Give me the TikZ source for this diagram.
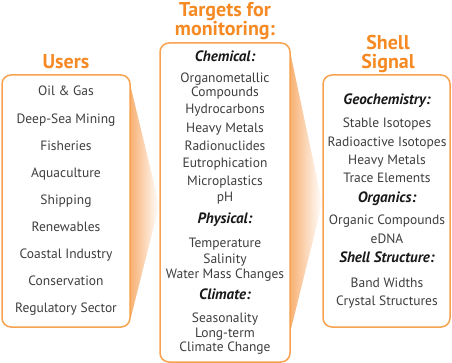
\documentclass[tikz,border=0pt]{standalone}
\usepackage{fontspec}
\setmainfont{PT Sans}
\usetikzlibrary{backgrounds}

\definecolor{shellorange}{RGB}{245,138,36}
\definecolor{boxline}{RGB}{247,162,78}
\definecolor{funnelorange}{RGB}{248,178,118}
\definecolor{itemgray}{RGB}{62,62,62}
\definecolor{headgray}{RGB}{25,25,25}

\tikzset{
    box/.style={draw=boxline, line width=1.5pt, rounded corners=9pt,
        fill=white, inner sep=0pt},
    title/.style={text=shellorange, anchor=base, inner sep=0pt, align=center,
        font=\fontsize{20}{19}\selectfont\bfseries},
    item/.style={text=itemgray, anchor=base, inner sep=0pt, align=center,
        font=\fontsize{13.5}{14}\selectfont},
    funnel/.style={left color=funnelorange, right color=white}
}
\newcommand{\head}[1]{{\color{headgray}\fontsize{15}{16}\selectfont\bfseries\itshape #1}}

\begin{document}
\begin{tikzpicture}[x=1pt,y=-1pt]
    \useasboundingbox (0,0) rectangle (452,363);

    % Kästen
    \node[box, minimum width=128pt, minimum height=252pt] (users)   at (66,201)    {};
    \node[box, minimum width=130pt, minimum height=319pt] (targets) at (225,202.5) {};
    \node[box, minimum width=127pt, minimum height=252pt] (shell)   at (386.5,201) {};

    % Trichter
    \begin{scope}[on background layer]
        \shade[funnel] (users.east |- 0,87) -- (targets.west |- 0,205)
            -- (users.east |- 0,318) -- cycle;
        \shade[funnel] (targets.east |- 0,55) -- (shell.west |- 0,203)
            -- (targets.east |- 0,330) -- cycle;
    \end{scope}

    % Titel (Grundlinie der letzten Zeile)
    \node[title] (tUsers)   at (66,69)  {Users};
    \node[title] (tTargets) at (225,35.5) {Targets for\\monitoring:};
    \node[title] (tShell)   at (388,68.5) {Shell\\Signal};

    % Einträge
    \foreach \y/\txt [count=\i] in {96/Oil \& Gas, 123.1/Deep-Sea Mining,
        150.2/Fisheries, 177.3/Aquaculture, 204.4/Shipping, 231.5/Renewables,
        258.6/Coastal Industry, 285.7/Conservation, 312.8/Regulatory Sector}
        \node[item] (u\i) at (66,\y) {\txt};

    \node[item, font=\fontsize{13.5}{11.7}\selectfont] (tOrgano) at (225,96.2)
        {Organometallic\\Compounds};
    \foreach \y/\txt [count=\i] in {61.2/\head{Chemical:},
        113.8/Hydrocarbons, 132.2/Heavy Metals, 150.2/Radionuclides,
        167.8/Eutrophication, 185.5/Microplastics, 201.2/pH,
        223.8/\head{Physical:}, 247.2/Temperature, 263.5/Salinity,
        278.8/Water Mass Changes, 299.5/\head{Climate:}, 322.2/Seasonality,
        337.8/Long-term, 351.2/Climate Change}
        \node[item] (t\i) at (225,\y) {\txt};

    \foreach \y/\txt [count=\i] in {104.5/\head{Geochemistry:},
        127.2/Stable Isotopes, 146.2/Radioactive Isotopes, 164.5/Heavy Metals,
        182.2/Trace Elements, 202.8/\head{Organics:},
        224.5/Organic Compounds, 243.8/eDNA, 262.2/\head{Shell Structure:},
        287.2/Band Widths, 305.5/Crystal Structures}
        \node[item] (s\i) at (387,\y) {\txt};

\end{tikzpicture}
\end{document}
